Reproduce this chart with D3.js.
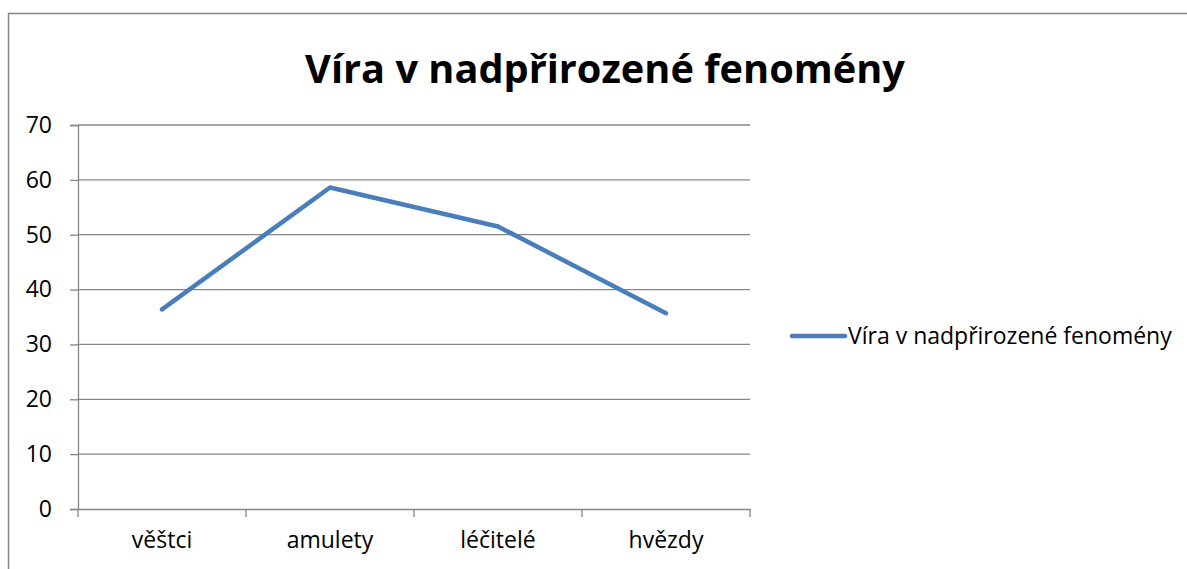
<!DOCTYPE html>
<html><head><meta charset="utf-8">
<script src="https://cdn.jsdelivr.net/npm/d3@7"></script>
<style>body{margin:0;background:#fff}svg{display:block}</style>
</head><body>
<svg id="c" width="1187" height="569"></svg>
<script>
const title = "Víra v nadpřirozené fenomény";
const categories = ["věštci", "amulety", "léčitelé", "hvězdy"];
const seriesName = "Víra v nadpřirozené fenomény";
const values = [36.4, 58.6, 51.5, 35.7];
const yTicks = [0, 10, 20, 30, 40, 50, 60, 70];

const svg = d3.select("#c");
const font = "'Open Sans', 'Liberation Sans', sans-serif";
const gray = "#868686";
const blue = "#4a7ebb";
const m = {left: 78, right: 750, top: 125, bottom: 509};
const labelSize = 23;

// outer border
svg.append("path").attr("d", "M8.5,600 V13.5 H1187")
  .attr("fill", "none").attr("stroke", gray).attr("stroke-width", 1.5);

const t = svg.append("text").attr("x", 605).attr("y", 83).attr("text-anchor", "middle")
  .attr("font-family", font).attr("font-weight", "bold").attr("font-size", 36)
  .attr("fill", "#000").text(title);
const tw = t.node().getComputedTextLength();
t.attr("font-size", 36 * 600 / tw);

const x = d3.scaleBand().domain(categories).range([m.left, m.right]);
const y = d3.scaleLinear().domain([0, 70]).range([m.bottom, m.top]);

// gridlines
svg.append("g").selectAll("line").data(yTicks.filter(d => d > 0)).join("line")
  .attr("x1", m.left).attr("x2", m.right)
  .attr("y1", d => y(d)).attr("y2", d => y(d))
  .attr("stroke", gray).attr("stroke-width", 1.3);

// y axis
const yAxis = svg.append("g").attr("transform", `translate(${m.left},0)`)
  .call(d3.axisLeft(y).tickValues(yTicks).tickSize(8).tickPadding(18));
yAxis.select(".domain").attr("stroke", gray).attr("stroke-width", 1.3);
yAxis.selectAll(".tick line").attr("stroke", gray).attr("stroke-width", 1.3);
yAxis.selectAll("text").attr("font-family", font).attr("font-size", labelSize).attr("fill", "#000");

// x axis
const xAxis = svg.append("g").attr("transform", `translate(0,${m.bottom})`)
  .call(d3.axisBottom(x).tickSize(0).tickPadding(23));
xAxis.select(".domain").attr("stroke", gray).attr("stroke-width", 1.3);
xAxis.selectAll("text").attr("font-family", font).attr("font-size", labelSize).attr("fill", "#000");
const bounds = categories.map(c => x(c)).concat([m.right]);
svg.append("g").selectAll("line").data(bounds).join("line")
  .attr("x1", d => d).attr("x2", d => d)
  .attr("y1", m.bottom).attr("y2", m.bottom + 8)
  .attr("stroke", gray).attr("stroke-width", 1.3);

// line
const line = d3.line().x((d, i) => x(categories[i]) + x.bandwidth() / 2).y(d => y(d));
svg.append("path").datum(values).attr("d", line)
  .attr("fill", "none").attr("stroke", blue).attr("stroke-width", 4.5)
  .attr("stroke-linecap", "round").attr("stroke-linejoin", "round");

// legend
svg.append("line").attr("x1", 792).attr("x2", 845).attr("y1", 336).attr("y2", 336)
  .attr("stroke", blue).attr("stroke-width", 4.5).attr("stroke-linecap", "round");
svg.append("text").attr("x", 848).attr("y", 344)
  .attr("font-family", font).attr("font-size", labelSize).attr("fill", "#000").text(seriesName);
</script>
</body></html>
